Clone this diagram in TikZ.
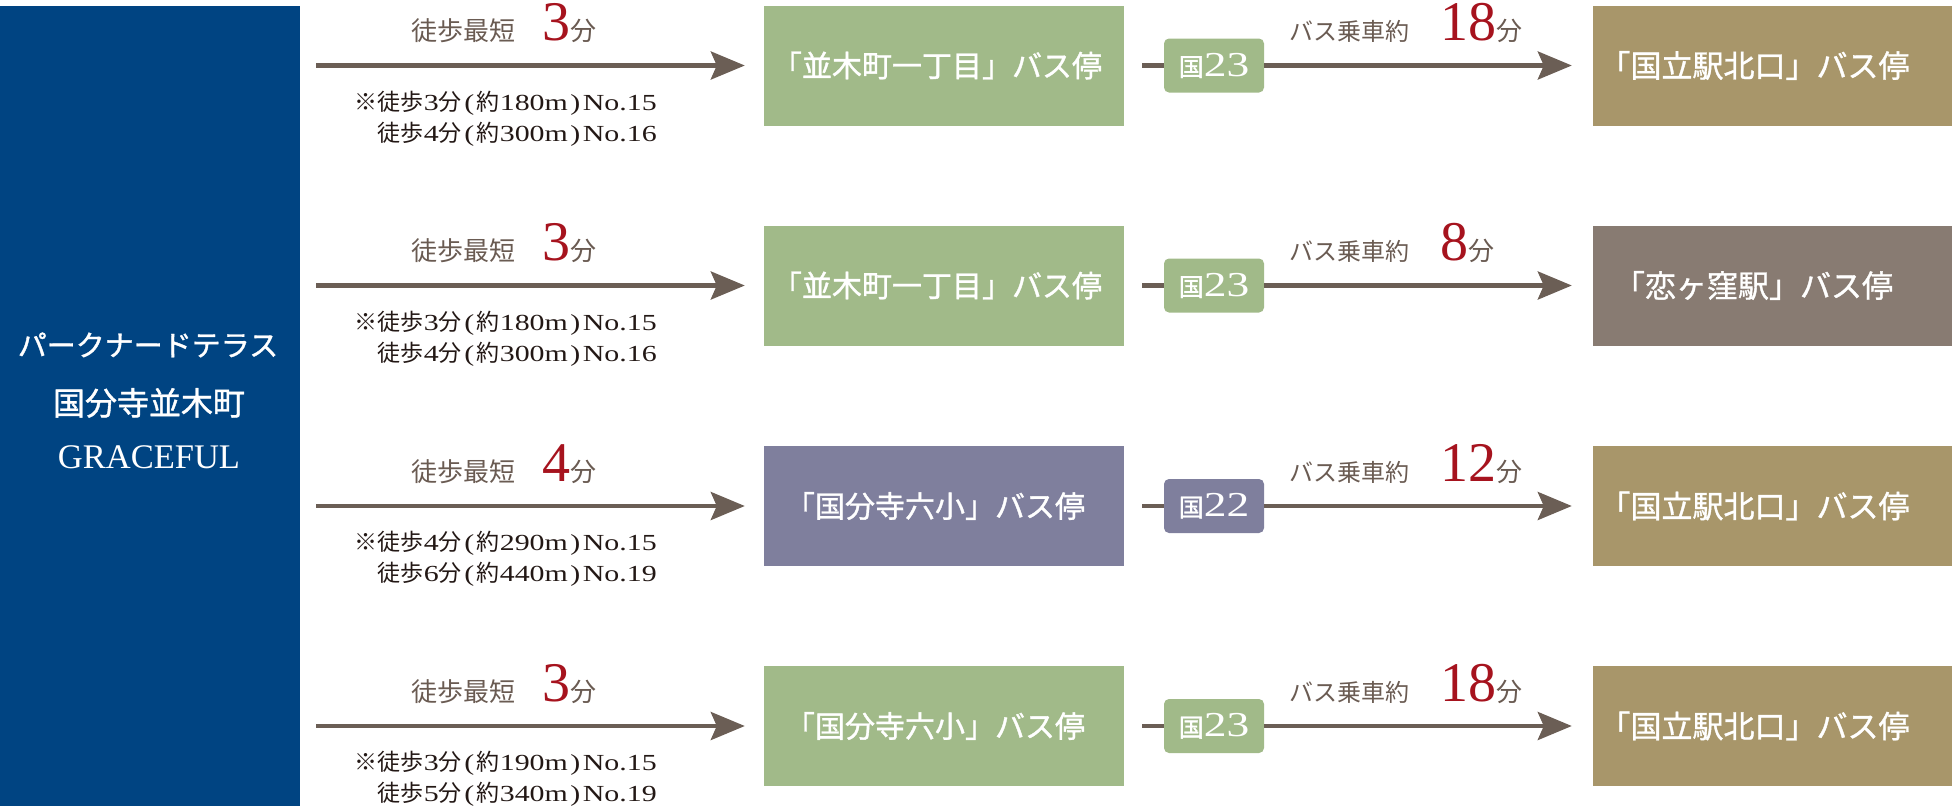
\documentclass[tikz,border=0pt]{standalone}
\usepackage{fontspec}
\setmainfont{Liberation Serif}
\newfontfamily\cjk{Noto Sans CJK JP}
\newfontfamily\cjkb[FakeBold=1.2]{Noto Sans CJK JP}
\newfontfamily\numf[FakeStretch=1.3]{Liberation Serif}
\usetikzlibrary{arrows.meta}

\definecolor{navy}{HTML}{004482}
\definecolor{stopgreen}{HTML}{A1BA89}
\definecolor{stopgold}{HTML}{A8966A}
\definecolor{stoptaupe}{HTML}{887B72}
\definecolor{stoppurple}{HTML}{7F7F9D}
\definecolor{arrowc}{HTML}{6B5E55}
\definecolor{labc}{HTML}{6A5B52}
\definecolor{redc}{HTML}{A6131E}
\definecolor{notec}{HTML}{231815}

\newcommand\lj[1]{{\cjk\fontsize{26}{30}\selectfont #1}}
\newcommand\lbj[1]{{\cjk\fontsize{24}{30}\selectfont #1}}
\newcommand\bign[1]{{\color{redc}\fontsize{56}{60}\selectfont #1}}
\newcommand\nja[1]{{\cjk\fontsize{23}{26}\selectfont #1}}
\newcommand\nlat[1]{{\numf\fontsize{23}{26}\selectfont #1}}
\newcommand\opar{\hspace{2.5pt}\nlat{(}\hspace{2.5pt}}
\newcommand\cpar{\hspace{2.5pt}\nlat{)}\hspace{2.5pt}}
\newcommand\badgetext[1]{{\cjkb\fontsize{25}{28}\selectfont 国}{\numf\fontsize{35}{38}\selectfont #1}}
\newcommand\stopname[2]{#1\rule{#2}{0pt}}

\tikzset{
  stopbox/.style={minimum width=360pt, minimum height=120pt, inner sep=0pt,
    text=white, font=\cjkb\fontsize{30}{32}\selectfont},
  destbox/.style={stopbox, font=\cjkb\fontsize{31}{32}\selectfont},
  badge/.style={rounded corners=5pt, minimum width=100pt, minimum height=54pt,
    inner sep=0pt, text=white},
  arr/.style={draw=arrowc, line width=4.3pt,
    -{Stealth[length=34pt,width=28pt,inset=6pt]}},
  link/.style={draw=arrowc, line width=4.3pt},
  lbl/.style={anchor=base west, inner sep=0pt, text=labc},
  note/.style={anchor=base east, inner sep=0pt, text=notec},
  hometext/.style={anchor=base, inner sep=0pt, text=white},
}

\begin{document}
\begin{tikzpicture}[x=1pt,y=-1pt]
\useasboundingbox (0,0) rectangle (1952,807);

% home block
\node[fill=navy, minimum width=300pt, minimum height=800pt, inner sep=0pt,
  anchor=north west] (home) at (0,5.3) {};
\node[hometext] (h1) at (148,356) {\cjkb\fontsize{29}{32}\selectfont パークナードテラス};
\node[hometext] (h2) at (149,415) {\cjkb\fontsize{32}{32}\selectfont 国分寺並木町};
\node[hometext] (h3) at (149,468) {\fontsize{34.5}{36}\selectfont GRACEFUL};

% ---------- row 1 ----------
\node[stopbox, fill=stopgreen] (g1) at (944,65.5) {\stopname{「並木町一丁目」バス停}{14pt}};
\node[badge, fill=stopgreen] (b1) at (1214,65.5) {\badgetext{23}};
\node[destbox, fill=stopgold] (r1) at (1772.5,65.5) {\stopname{「国立駅北口」バス停}{36pt}};
\coordinate (w1) at (316,65.5);
\draw[arr, shorten >=19pt] (w1) -- (g1.west);
\draw[link, shorten <=18pt] (g1.east) -- (b1.west);
\draw[arr, shorten >=20.5pt] (b1.east) -- (r1.west);
\node[lbl] (lw1) at (411,40.5) {\lj{徒歩最短}\hspace{27pt}\bign{3}\lj{分}};
\node[lbl] (lb1) at (1289,40.5) {\lbj{バス乗車約}\hspace{31pt}\bign{18}\lj{分}};
\node[note] (n1a) at (657,110) {\nja{※徒歩}\nlat{3}\nja{分}\opar\nja{約}\nlat{180m}\cpar\nlat{No.15}};
\node[note] (n1b) at (657,141) {\nja{徒歩}\nlat{4}\nja{分}\opar\nja{約}\nlat{300m}\cpar\nlat{No.16}};

% ---------- row 2 ----------
\node[stopbox, fill=stopgreen] (g2) at (944,285.5) {\stopname{「並木町一丁目」バス停}{14pt}};
\node[badge, fill=stopgreen] (b2) at (1214,285.5) {\badgetext{23}};
\node[destbox, fill=stoptaupe] (r2) at (1772.5,285.5) {\stopname{「恋ヶ窪駅」バス停}{38pt}};
\coordinate (w2) at (316,285.5);
\draw[arr, shorten >=19pt] (w2) -- (g2.west);
\draw[link, shorten <=18pt] (g2.east) -- (b2.west);
\draw[arr, shorten >=20.5pt] (b2.east) -- (r2.west);
\node[lbl] (lw2) at (411,260.5) {\lj{徒歩最短}\hspace{27pt}\bign{3}\lj{分}};
\node[lbl] (lb2) at (1289,260.5) {\lbj{バス乗車約}\hspace{31pt}\bign{8}\lj{分}};
\node[note] (n2a) at (657,330) {\nja{※徒歩}\nlat{3}\nja{分}\opar\nja{約}\nlat{180m}\cpar\nlat{No.15}};
\node[note] (n2b) at (657,361) {\nja{徒歩}\nlat{4}\nja{分}\opar\nja{約}\nlat{300m}\cpar\nlat{No.16}};

% ---------- row 3 ----------
\node[stopbox, fill=stoppurple] (g3) at (944,506) {\stopname{「国分寺六小」バス停}{18pt}};
\node[badge, fill=stoppurple] (b3) at (1214,506) {\badgetext{22}};
\node[destbox, fill=stopgold] (r3) at (1772.5,506) {\stopname{「国立駅北口」バス停}{36pt}};
\coordinate (w3) at (316,506);
\draw[arr, shorten >=19pt] (w3) -- (g3.west);
\draw[link, shorten <=18pt] (g3.east) -- (b3.west);
\draw[arr, shorten >=20.5pt] (b3.east) -- (r3.west);
\node[lbl] (lw3) at (411,481) {\lj{徒歩最短}\hspace{27pt}\bign{4}\lj{分}};
\node[lbl] (lb3) at (1289,481) {\lbj{バス乗車約}\hspace{31pt}\bign{12}\lj{分}};
\node[note] (n3a) at (657,550.5) {\nja{※徒歩}\nlat{4}\nja{分}\opar\nja{約}\nlat{290m}\cpar\nlat{No.15}};
\node[note] (n3b) at (657,581.5) {\nja{徒歩}\nlat{6}\nja{分}\opar\nja{約}\nlat{440m}\cpar\nlat{No.19}};

% ---------- row 4 ----------
\node[stopbox, fill=stopgreen] (g4) at (944,726) {\stopname{「国分寺六小」バス停}{18pt}};
\node[badge, fill=stopgreen] (b4) at (1214,726) {\badgetext{23}};
\node[destbox, fill=stopgold] (r4) at (1772.5,726) {\stopname{「国立駅北口」バス停}{36pt}};
\coordinate (w4) at (316,726);
\draw[arr, shorten >=19pt] (w4) -- (g4.west);
\draw[link, shorten <=18pt] (g4.east) -- (b4.west);
\draw[arr, shorten >=20.5pt] (b4.east) -- (r4.west);
\node[lbl] (lw4) at (411,701) {\lj{徒歩最短}\hspace{27pt}\bign{3}\lj{分}};
\node[lbl] (lb4) at (1289,701) {\lbj{バス乗車約}\hspace{31pt}\bign{18}\lj{分}};
\node[note] (n4a) at (657,770.5) {\nja{※徒歩}\nlat{3}\nja{分}\opar\nja{約}\nlat{190m}\cpar\nlat{No.15}};
\node[note] (n4b) at (657,801.5) {\nja{徒歩}\nlat{5}\nja{分}\opar\nja{約}\nlat{340m}\cpar\nlat{No.19}};
\end{tikzpicture}
\end{document}
